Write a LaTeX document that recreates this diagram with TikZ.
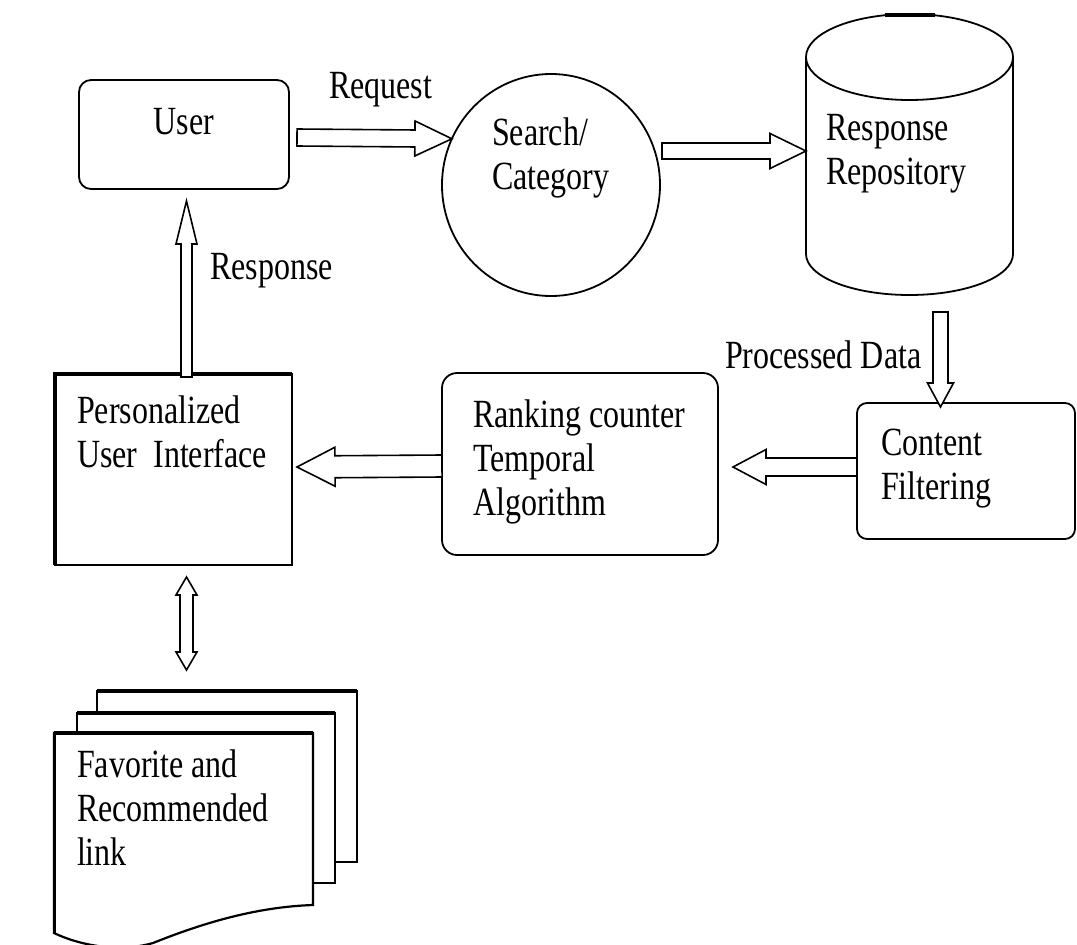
\documentclass[tikz,border=0pt]{standalone}
\usepackage{fontspec}
\setmainfont[FakeStretch=0.8]{Liberation Serif}
\usetikzlibrary{calc,shapes.geometric}
% block arrow: #1 start, #2 tip, #3 shaft half width, #4 head half width, #5 head length
\newcommand\blockarr[5]{%
  \path ($(#2)!#5!(#1)$) coordinate (ba-h);
  \draw[blockarrow] ($(#1)!#3!90:(#2)$) -- ($(ba-h)!#3!90:(#2)$) -- ($(ba-h)!#4!90:(#2)$) -- (#2)
    -- ($(ba-h)!#4!-90:(#2)$) -- ($(ba-h)!#3!-90:(#2)$) -- ($(#1)!#3!-90:(#2)$) -- cycle;}
% double block arrow
\newcommand\dblarr[5]{%
  \path ($(#1)!#5!(#2)$) coordinate (da-a) ($(#2)!#5!(#1)$) coordinate (da-b);
  \draw[blockarrow] (#1) -- ($(da-a)!#4!90:(#2)$) -- ($(da-a)!#3!90:(#2)$) -- ($(da-b)!#3!-90:(#1)$)
    -- ($(da-b)!#4!-90:(#1)$) -- (#2) -- ($(da-b)!#4!90:(#1)$) -- ($(da-b)!#3!90:(#1)$)
    -- ($(da-a)!#3!-90:(#2)$) -- ($(da-a)!#4!-90:(#2)$) -- cycle;}
\begin{document}
\begin{tikzpicture}[x=1pt,y=-1pt,
  every node/.style={inner sep=0pt, outer sep=0pt},
  line/.style={line width=1.8pt},
  rbox/.style={draw, line width=1.8pt, rounded corners=12pt},
  sbox/.style={draw, line width=1.8pt},
  docshape/.style={draw, fill=white, line width=2.2pt},
  blockarrow/.style={draw, fill=white, line width=1.6pt, line join=miter},
  txt/.style={anchor=base west, font=\fontsize{40}{44}\selectfont},
  ctxt/.style={anchor=base, font=\fontsize{40}{44}\selectfont}]
\useasboundingbox (0,0) rectangle (1077,945);
\fill[white] (0,0) rectangle (1077,945);

% shapes
\node[rbox, minimum width=210pt, minimum height=109pt] (user) at (184,134.5) {};
\node[draw, line width=1.8pt, ellipse, minimum width=218pt, minimum height=222pt] (search) at (551,185) {};
\node[minimum width=207pt, minimum height=197pt] (repo) at (909.5,155.5) {};
\node[rbox, rounded corners=10pt, minimum width=218pt, minimum height=136pt] (content) at (966,471) {};
\node[rbox, rounded corners=15pt, minimum width=276pt, minimum height=182pt] (ranking) at (580,464) {};
\node[sbox, minimum width=237pt, minimum height=191pt] (pers) at (173.5,469.5) {};
\draw[line width=3.6pt] (pers.south west) -- (pers.north west) -- (pers.north east);

% cylinder
\draw[line] (repo.north) ellipse[x radius=103.5pt, y radius=43pt];
\draw[line width=4pt] ($(repo.north)+(-25,-42)$) -- ($(repo.north)+(25,-42)$);
\draw[line] (repo.north west) -- (repo.south west)
  arc[start angle=180, end angle=360, x radius=103.5pt, y radius=41pt];
\draw[line width=2.8pt] (repo.north east) -- (repo.south east);

% document stack
\node[minimum width=260pt, minimum height=171pt] (back) at (227,776.5) {};
\node[minimum width=258pt, minimum height=170pt] (middle) at (206,798) {};
\node[minimum width=259pt, minimum height=172pt] (fav) at (183.5,819) {};
\draw[docshape] (back.south west) rectangle (back.north east);
\draw[line width=4pt] (back.north west) -- (back.north east);
\draw[docshape] (middle.south west) rectangle (middle.north east);
\draw[line width=4pt] (middle.north west) -- (middle.north east);
\draw[docshape] (fav.north west) -- (fav.north east) -- (fav.south east)
  .. controls ($(fav.south east)+(-60,2)$) and ($(fav.south east)+(-115,20)$) .. ($(fav.south east)+(-160,38)$)
  .. controls ($(fav.south east)+(-195,48)$) and ($(fav.south west)+(25,40)$) .. ($(fav.south west)+(0,28)$)
  -- cycle;
\draw[line width=4pt] (fav.north west) -- (fav.north east);
\draw[line width=3pt] (fav.north west) -- ($(fav.south west)+(0,28)$);

% texts
\node[ctxt] (utext) at (184,134) {User};
\node[txt] (req) at (329,98) {Request};
\node[txt] (stext) at (492,145) {\vtop{\hbox{Search/}\hbox{Category}}};
\node[txt] (rtext) at (826,140) {\vtop{\hbox{Response}\hbox{Repository}}};
\node[txt] (pdata) at (725,368) {Processed Data};
\node[txt] (ctext) at (881,455) {\vtop{\hbox{Content}\hbox{Filtering}}};
\node[txt] (rktext) at (473,427) {\vtop{\hbox{Ranking counter}\hbox{Temporal}\hbox{Algorithm}}};
\node[txt] (ptext) at (77,423) {\vtop{\hbox{Personalized}\hbox{User~~Interface}}};
\node[txt] (resp) at (210,279) {Response};
\node[txt] (ftext) at (77,777) {\vtop{\hbox{Favorite and}\hbox{Recommended}\hbox{link}}};

% connectors
\coordinate (a1s) at ($(user.east)+(8,3)$);
\blockarr{a1s}{search.155}{8.5pt}{17.5pt}{37pt}
\coordinate (a2s) at ($(search.east)+(2,-34)$);
\coordinate (a2e) at (repo.west |- a2s);
\blockarr{a2s}{a2e}{8pt}{17.5pt}{36pt}
\coordinate (a3s) at ($(repo.south)+(31,58)$);
\coordinate (a3e) at ($(content.north -| a3s)+(0,4)$);
\blockarr{a3s}{a3e}{7.5pt}{13pt}{24pt}
\coordinate (a4s) at ($(content.west)+(0,-4)$);
\coordinate (a4e) at ($(ranking.east)+(15,3)$);
\blockarr{a4s}{a4e}{9pt}{17.5pt}{33pt}
\coordinate (a5s) at ($(ranking.west)+(0,2)$);
\coordinate (a5e) at ($(pers.east)+(5,-2.5)$);
\blockarr{a5s}{a5e}{11pt}{19.5pt}{38pt}
\coordinate (a6s) at ($(pers.north)+(13,3)$);
\coordinate (a6e) at ($(user.south)+(2.5,12)$);
\blockarr{a6s}{a6e}{5.5pt}{10.5pt}{43pt}
\coordinate (a7s) at ($(pers.south)+(13,12)$);
\coordinate (a7e) at ($(back.north)+(-40.5,-21)$);
\dblarr{a7s}{a7e}{6.5pt}{10.5pt}{18pt}
\end{tikzpicture}
\end{document}
